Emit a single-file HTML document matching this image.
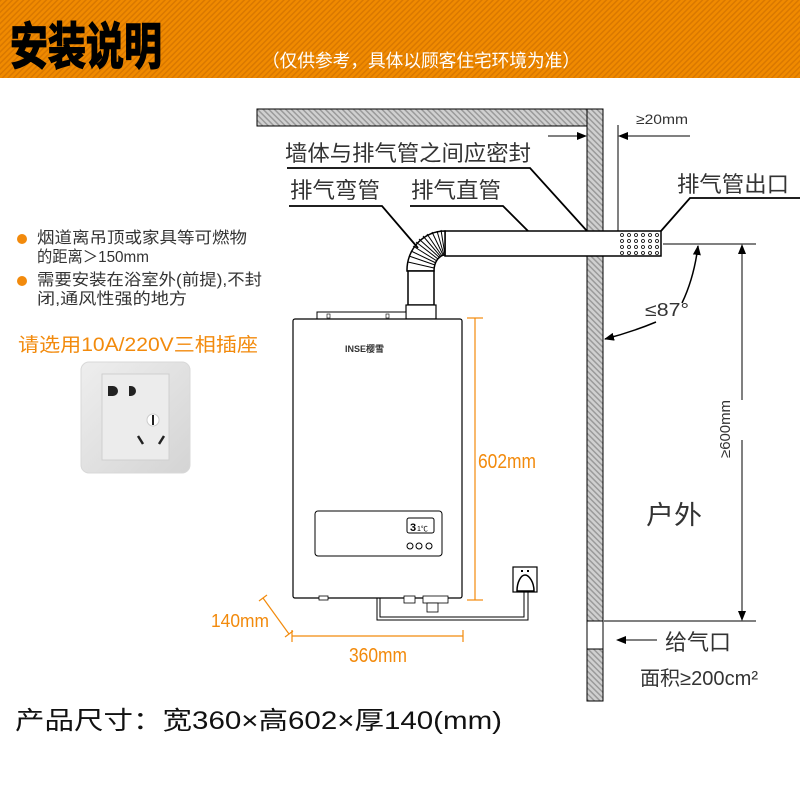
<!DOCTYPE html>
<html><head><meta charset="utf-8"><style>
html,body{margin:0;padding:0;background:#fff;width:800px;height:800px;overflow:hidden}
svg{display:block}
text{font-family:"Liberation Sans","Noto Sans CJK SC",sans-serif}
</style></head><body>
<svg width="800" height="800" viewBox="0 0 800 800" xmlns="http://www.w3.org/2000/svg">
<defs>
<pattern id="stripe" width="4" height="4" patternUnits="userSpaceOnUse" patternTransform="rotate(45)">
<rect width="4" height="4" fill="#f08a00"/><rect width="1.5" height="4" fill="#d97800"/></pattern>
<pattern id="hatch" width="4" height="4" patternUnits="userSpaceOnUse" patternTransform="rotate(-45)">
<rect width="4" height="4" fill="#d0d0d0"/><rect width="1.5" height="4" fill="#9a9a9a"/></pattern>
<linearGradient id="sg" x1="0" y1="0" x2="1" y2="1"><stop offset="0" stop-color="#eeeeee"/><stop offset="1" stop-color="#d4d4d4"/></linearGradient>
<marker id="ah" markerWidth="10" markerHeight="8" refX="9" refY="4" orient="auto" markerUnits="userSpaceOnUse"><path d="M0,0 L10,4 L0,8 z" fill="#000"/></marker>
</defs>
<rect x="0" y="0" width="800" height="78" fill="url(#stripe)"/>
<text x="10" y="64" font-size="50" font-weight="bold" fill="#000" textLength="152" lengthAdjust="spacingAndGlyphs" stroke="#000" stroke-width="1.5">安装说明</text>
<text x="262" y="67" font-size="18" fill="#fff" textLength="318" lengthAdjust="spacingAndGlyphs">（仅供参考，具体以顾客住宅环境为准）</text>

<circle cx="22" cy="239" r="5" fill="#f28a0c"/>
<text x="37" y="243" font-size="16" fill="#333" textLength="210" lengthAdjust="spacingAndGlyphs">烟道离吊顶或家具等可燃物</text>
<text x="37" y="262" font-size="16" fill="#333" textLength="112" lengthAdjust="spacingAndGlyphs">的距离＞150mm</text>
<circle cx="22" cy="281" r="5" fill="#f28a0c"/>
<text x="37" y="285" font-size="16" fill="#333" textLength="225" lengthAdjust="spacingAndGlyphs">需要安装在浴室外(前提),不封</text>
<text x="37" y="304" font-size="16" fill="#333" textLength="150" lengthAdjust="spacingAndGlyphs">闭,通风性强的地方</text>
<text x="18" y="351" font-size="19" fill="#f28a0c" textLength="240" lengthAdjust="spacingAndGlyphs">请选用10A/220V三相插座</text>

<rect x="81" y="362" width="109" height="111" rx="8" fill="url(#sg)" stroke="#d8d8d8"/>
<rect x="102" y="374" width="67" height="86" fill="#ececec" stroke="#cfcfcf"/>
<path d="M108,386 h5 a5,5 0 0 1 0,10 h-5 z" fill="#222"/>
<path d="M129,386 h2 a5,5 0 0 1 0,10 h-2 z" fill="#222"/>
<circle cx="153" cy="420" r="6" fill="#fff" stroke="#ccc"/><rect x="152" y="415" width="2" height="10" fill="#222"/>
<line x1="138" y1="436" x2="143" y2="444" stroke="#222" stroke-width="2.5"/>
<line x1="164" y1="436" x2="159" y2="444" stroke="#222" stroke-width="2.5"/>

<rect x="257" y="109" width="346" height="17" fill="url(#hatch)" stroke="#000" stroke-width="1"/>
<rect x="587" y="109" width="16" height="592" fill="url(#hatch)" stroke="#000" stroke-width="1"/>
<rect x="587" y="621" width="16" height="28" fill="#fff" stroke="#000" stroke-width="1"/>

<rect x="445" y="231" width="216" height="25" fill="#fff" stroke="#000" stroke-width="1.5"/>
<g fill="none" stroke="#000" stroke-width="0.8">
<g id="dots"><circle cx="622" cy="235" r="1.5"/><circle cx="629" cy="235" r="1.5"/><circle cx="636" cy="235" r="1.5"/><circle cx="643" cy="235" r="1.5"/><circle cx="650" cy="235" r="1.5"/><circle cx="657" cy="235" r="1.5"/></g>
<use href="#dots" y="6"/><use href="#dots" y="12"/><use href="#dots" y="18"/>
</g>
<path d="M407,271 A38,39 0 0 1 445,231 L445,255 A11,16 0 0 0 434,271 Z" fill="#fff" stroke="#000" stroke-width="1.5"/>
<g stroke="#000" stroke-width="1">
<line x1="408" y1="262" x2="434" y2="268"/><line x1="409" y1="256" x2="435" y2="265"/><line x1="411" y1="251" x2="436" y2="263"/><line x1="413" y1="246" x2="437" y2="261"/><line x1="416" y1="242" x2="438" y2="259"/><line x1="419" y1="239" x2="440" y2="258"/><line x1="423" y1="236" x2="441" y2="257"/><line x1="427" y1="234" x2="442" y2="256"/><line x1="432" y1="232" x2="443" y2="255"/><line x1="437" y1="231" x2="444" y2="255"/><line x1="441" y1="230" x2="445" y2="255"/>
</g>
<rect x="408" y="271" width="26" height="34" fill="#fff" stroke="#000" stroke-width="1.5"/>
<rect x="406" y="305" width="30" height="14" fill="#fff" stroke="#000" stroke-width="1.2"/>

<rect x="317" y="312" width="89" height="7" fill="#fff" stroke="#000"/>
<rect x="327" y="314" width="3" height="4" fill="#fff" stroke="#000" stroke-width="0.6"/>
<rect x="386" y="314" width="3" height="4" fill="#fff" stroke="#000" stroke-width="0.6"/>
<rect x="293" y="319" width="169" height="279" rx="2" fill="#fff" stroke="#000" stroke-width="1.2"/>
<text x="345" y="352" font-size="9" font-weight="bold" fill="#333">INSE樱雪</text>
<rect x="315" y="511" width="127" height="45" rx="3" fill="#fff" stroke="#000"/>
<rect x="407" y="518" width="27" height="15" rx="2" fill="#fff" stroke="#000"/>
<text x="410" y="531" font-size="11" font-weight="bold">3</text><text x="417" y="531" font-size="7">1℃</text>
<circle cx="410" cy="546" r="3" fill="none" stroke="#000"/><circle cx="419" cy="546" r="3" fill="none" stroke="#000"/><circle cx="429" cy="546" r="3" fill="none" stroke="#000"/>
<rect x="319" y="596" width="9" height="4" fill="#fff" stroke="#000" stroke-width="0.8"/>
<rect x="404" y="596" width="11" height="7" fill="#fff" stroke="#000" stroke-width="0.8"/>
<rect x="423" y="596" width="25" height="7" fill="#fff" stroke="#000" stroke-width="0.8"/>
<rect x="427" y="603" width="11" height="9" fill="#fff" stroke="#000" stroke-width="0.8"/>
<path d="M377,598 V620 H528 V592 M380,598 V617 H524 V592" fill="none" stroke="#000" stroke-width="1"/>
<rect x="513" y="567" width="24" height="25" fill="#fff" stroke="#000" stroke-width="1.2"/>
<rect x="521" y="570" width="2" height="2" fill="#000"/><rect x="527" y="570" width="2" height="2" fill="#000"/>
<path d="M517,591 C517,582 521,575 525,575 C529,575 534,582 534,591 Z" fill="#fff" stroke="#000" stroke-width="1.5"/>

<g stroke="#f28a0c" stroke-width="1.2" fill="none">
<line x1="475" y1="318" x2="475" y2="600"/><line x1="467" y1="318" x2="483" y2="318"/><line x1="467" y1="600" x2="483" y2="600"/>
<line x1="292" y1="636" x2="463" y2="636"/><line x1="292" y1="630" x2="292" y2="642"/><line x1="463" y1="630" x2="463" y2="642"/>
<line x1="263" y1="598" x2="289" y2="634"/><line x1="259" y1="601" x2="267" y2="595"/><line x1="285" y1="637" x2="293" y2="631"/>
</g>
<text x="478" y="468" font-size="20" fill="#f28a0c" textLength="58" lengthAdjust="spacingAndGlyphs">602mm</text>
<text x="349" y="662" font-size="20" fill="#f28a0c" textLength="58" lengthAdjust="spacingAndGlyphs">360mm</text>
<text x="211" y="627" font-size="18" fill="#f28a0c" textLength="58" lengthAdjust="spacingAndGlyphs">140mm</text>

<g stroke="#000" stroke-width="1.8" fill="none">
<polyline points="287,168 530,168 587,231"/>
<polyline points="289,206 382,206 418,248"/>
<polyline points="410,206 503,206 528,231"/>
<polyline points="800,198 690,198 661,231"/>
</g>
<text x="285" y="161" font-size="22" fill="#333" textLength="246" lengthAdjust="spacingAndGlyphs">墙体与排气管之间应密封</text>
<text x="290" y="198" font-size="22" fill="#333" textLength="90" lengthAdjust="spacingAndGlyphs">排气弯管</text>
<text x="411" y="198" font-size="22" fill="#333" textLength="90" lengthAdjust="spacingAndGlyphs">排气直管</text>
<text x="677" y="192" font-size="22" fill="#333" textLength="112" lengthAdjust="spacingAndGlyphs">排气管出口</text>

<g stroke="#000" stroke-width="1" fill="none">
<line x1="618" y1="125" x2="618" y2="231"/>
<line x1="548" y1="136" x2="586" y2="136" marker-end="url(#ah)"/>
<line x1="690" y1="136" x2="619" y2="136" marker-end="url(#ah)"/>
<line x1="663" y1="244" x2="756" y2="244"/>
<line x1="604" y1="621" x2="756" y2="621"/>
<line x1="742" y1="400" x2="742" y2="245" marker-end="url(#ah)"/>
<line x1="742" y1="440" x2="742" y2="620" marker-end="url(#ah)"/>
<path d="M682,303 Q694,278 698,246" marker-end="url(#ah)" stroke-width="1.5"/>
<path d="M656,322 Q632,332 605,339" marker-end="url(#ah)" stroke-width="1.5"/>
<line x1="657" y1="640" x2="617" y2="640" marker-end="url(#ah)"/>
</g>
<text x="636" y="124" font-size="14" fill="#333" textLength="52" lengthAdjust="spacingAndGlyphs">≥20mm</text>
<text x="645" y="316" font-size="18" fill="#333" textLength="44" lengthAdjust="spacingAndGlyphs">≤87°</text>
<text transform="translate(730,458) rotate(-90)" font-size="15" fill="#333" textLength="58" lengthAdjust="spacingAndGlyphs">≥600mm</text>
<text x="646" y="524" font-size="26" fill="#333" textLength="56" lengthAdjust="spacingAndGlyphs">户外</text>
<text x="665" y="650" font-size="22" fill="#333" textLength="66" lengthAdjust="spacingAndGlyphs">给气口</text>
<text x="640" y="685" font-size="20" fill="#333" textLength="118" lengthAdjust="spacingAndGlyphs">面积≥200cm²</text>

<text x="15" y="729" font-size="25" fill="#111" textLength="487" lengthAdjust="spacingAndGlyphs">产品尺寸：宽360×高602×厚140(mm)</text>
</svg>
</body></html>
